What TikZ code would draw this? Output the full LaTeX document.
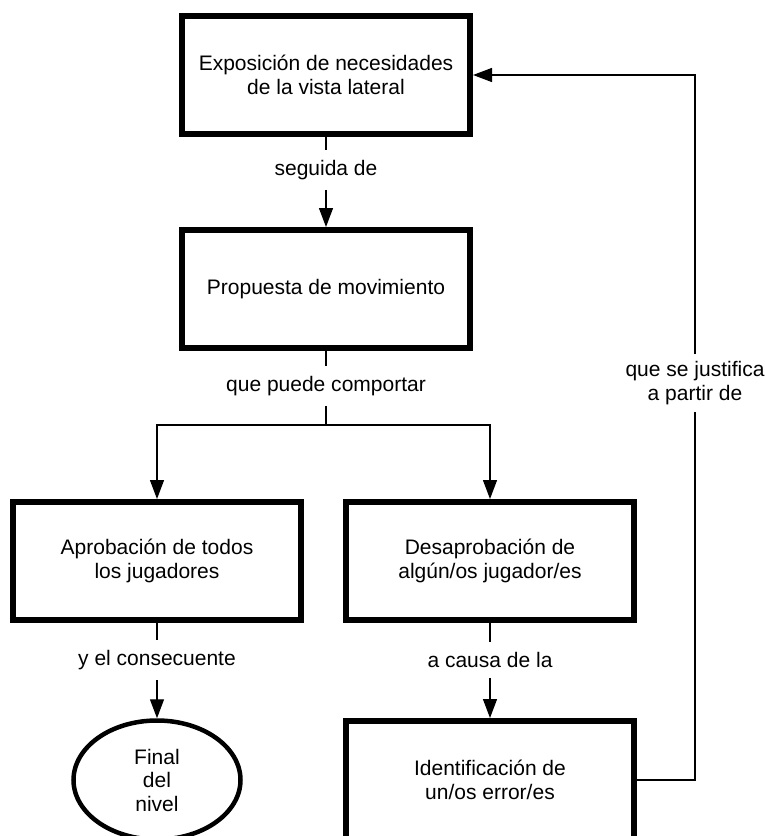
\documentclass[tikz,border=0pt]{standalone}
\usepackage{fontspec}
\setmainfont{Liberation Sans}
\usetikzlibrary{arrows.meta,shapes.geometric}

\begin{document}
\begin{tikzpicture}[x=1bp,y=-1bp,
	box/.style={draw,line width=6bp,minimum width=288bp,minimum height=118bp,align=center,inner sep=0pt},
	endbox/.style={draw,ellipse,line width=4.5bp,minimum width=167bp,minimum height=119bp,align=center,inner sep=0pt},
	link/.style={fill=white,align=center,inner xsep=3bp,inner ysep=10bp},
	conn/.style={line width=1.3bp},
	arr/.style={conn,-{Triangle[length=19bp,width=14bp]}}]
	\tikzstyle{every node}+=[font=\fontsize{21bp}{23.5bp}\selectfont]
	\useasboundingbox (0,0) rectangle (765,836);
	\clip (0,0) rectangle (765,836);
	% boxes
	\node [box] (need) at (326,75) {Exposición de necesidades\\de la vista lateral};
	\node [box] (move) at (326,289) {Propuesta de movimiento};
	\node [box] (yes) at (157,561) {Aprobación de todos\\los jugadores};
	\node [box] (no) at (490,561) {Desaprobación de\\algún/os jugador/es};
	\node [box] (err) at (490,780) {Identificación de\\un/os error/es};
	\node [endbox] (fin) at (157,780) {Final\\del\\nivel};
	% link labels
	\node [link] (lfollow) at (326,170) {seguida de};
	\node [link] (lmay) at (326,386) {que puede comportar};
	\node [link] (lthen) at (157,660) {y el consecuente};
	\node [link] (lcause) at (490,660) {a causa de la};
	\node [link,inner ysep=7bp] (lback) at (695,383) {que se justifica\\a partir de};
	\coordinate (split) at (326,425);
	% connectors
	\draw [conn] (need.south) -- (lfollow.north);
	\draw [arr] (lfollow.south) -- (move.north);
	\draw [conn] (move.south) -- (lmay.north);
	\draw [conn] (lmay.south) -- (split);
	\draw [arr] (split) -| (yes.north);
	\draw [arr] (split) -| (no.north);
	\draw [conn] (yes.south) -- (lthen.north);
	\draw [arr] (lthen.south) -- (fin.north);
	\draw [conn] (no.south) -- (lcause.north);
	\draw [arr] (lcause.south) -- (err.north);
	\draw [conn] (err.east) -| (lback.south);
	\draw [arr] (lback.north) |- (need.east);
\end{tikzpicture}
\end{document}
